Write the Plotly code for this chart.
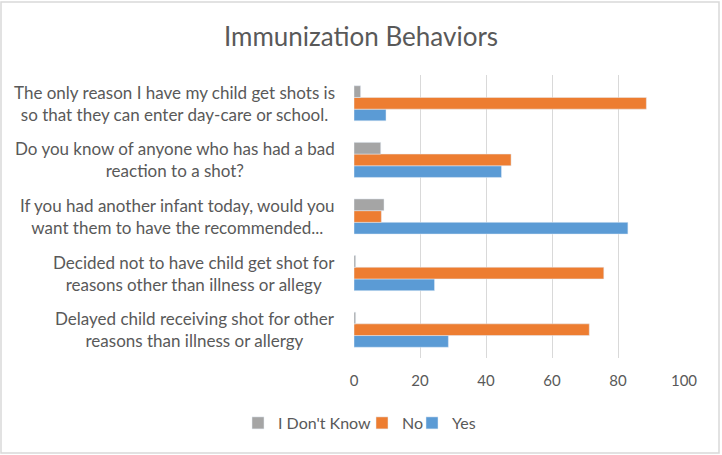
import plotly.graph_objects as go

categories = [
    "Delayed child receiving shot for other<br>reasons than illness or allergy",
    "Decided not to have child get shot for<br>reasons other than illness or allegy",
    "If you had another infant today, would you<br>want them to have the recommended...",
    "Do you know of anyone who has had a bad<br>reaction to a shot?",
    "The only reason I have my child get shots is<br>so that they can enter day-care or school.",
]
yes_vals = [28.6, 24.4, 83.0, 44.7, 9.7]
no_vals = [71.3, 75.7, 8.3, 47.6, 88.6]
idk_vals = [0.5, 0.5, 9.1, 8.1, 2.0]
x_ticks = [0, 20, 40, 60, 80, 100]

TXT = "#595959"
FONT = "Lato"

L, R, T, B = 354, 38, 75, 97
pw = 722 - L - R
ph = 455 - T - B

fig = go.Figure()
fig.add_trace(go.Bar(y=categories, x=yes_vals, name="Yes", orientation="h",
                     marker=dict(color="#5B9BD5"), legend="legend3"))
fig.add_trace(go.Bar(y=categories, x=no_vals, name="No", orientation="h",
                     marker=dict(color="#ED7D31"), legend="legend2"))
fig.add_trace(go.Bar(y=categories, x=idk_vals, name="I Don't Know", orientation="h",
                     marker=dict(color="#A5A5A5"), legend="legend"))

annotations = []
for c in categories:
    annotations.append(dict(x=-17 / pw, xref="paper", y=c, yref="y", text=c,
                            showarrow=False, xanchor="right", yanchor="middle",
                            align="center", font=dict(family=FONT, size=17, color=TXT)))

leg_y = -(423 - (455 - B)) / ph


def leg(px_left):
    return dict(orientation="h", x=(px_left - L) / pw, xanchor="left",
                y=leg_y, yanchor="middle", bgcolor="rgba(0,0,0,0)",
                font=dict(family=FONT, size=16, color=TXT), itemwidth=30)


fig.update_layout(
    width=722, height=455,
    margin=dict(l=L, r=R, t=T, b=B),
    paper_bgcolor="white", plot_bgcolor="white",
    barmode="group", bargap=0.38, bargroupgap=0,
    title=dict(text="Immunization Behaviors", x=0.5, xref="container", xanchor="center",
               y=1 - 37 / 455, yanchor="middle",
               font=dict(family=FONT, size=26, color=TXT)),
    font=dict(family=FONT, size=15, color=TXT),
    xaxis=dict(range=[0, 100], tickvals=x_ticks, showgrid=True, gridcolor="#D9D9D9",
               gridwidth=1, zeroline=False, showline=False, ticks="",
               ticklabelstandoff=12, tickfont=dict(family=FONT, size=15, color=TXT)),
    yaxis=dict(showticklabels=False, showgrid=False, zeroline=False, ticks="",
               categoryorder="array", categoryarray=categories),
    legend=leg(238),
    legend2=leg(362),
    legend3=leg(412),
    annotations=annotations,
    showlegend=True,
)

# chart outer border
fig.add_shape(type="rect", xref="paper", yref="paper",
              x0=(1 - L) / pw, x1=(719 - L) / pw,
              y0=-(453 - (455 - B)) / ph, y1=1 + (T - 2) / ph,
              line=dict(color="#D9D9D9", width=1.5), layer="below")

fig.write_html("out.html", config={"displayModeBar": False},
               post_script="document.body.style.margin='0';")
